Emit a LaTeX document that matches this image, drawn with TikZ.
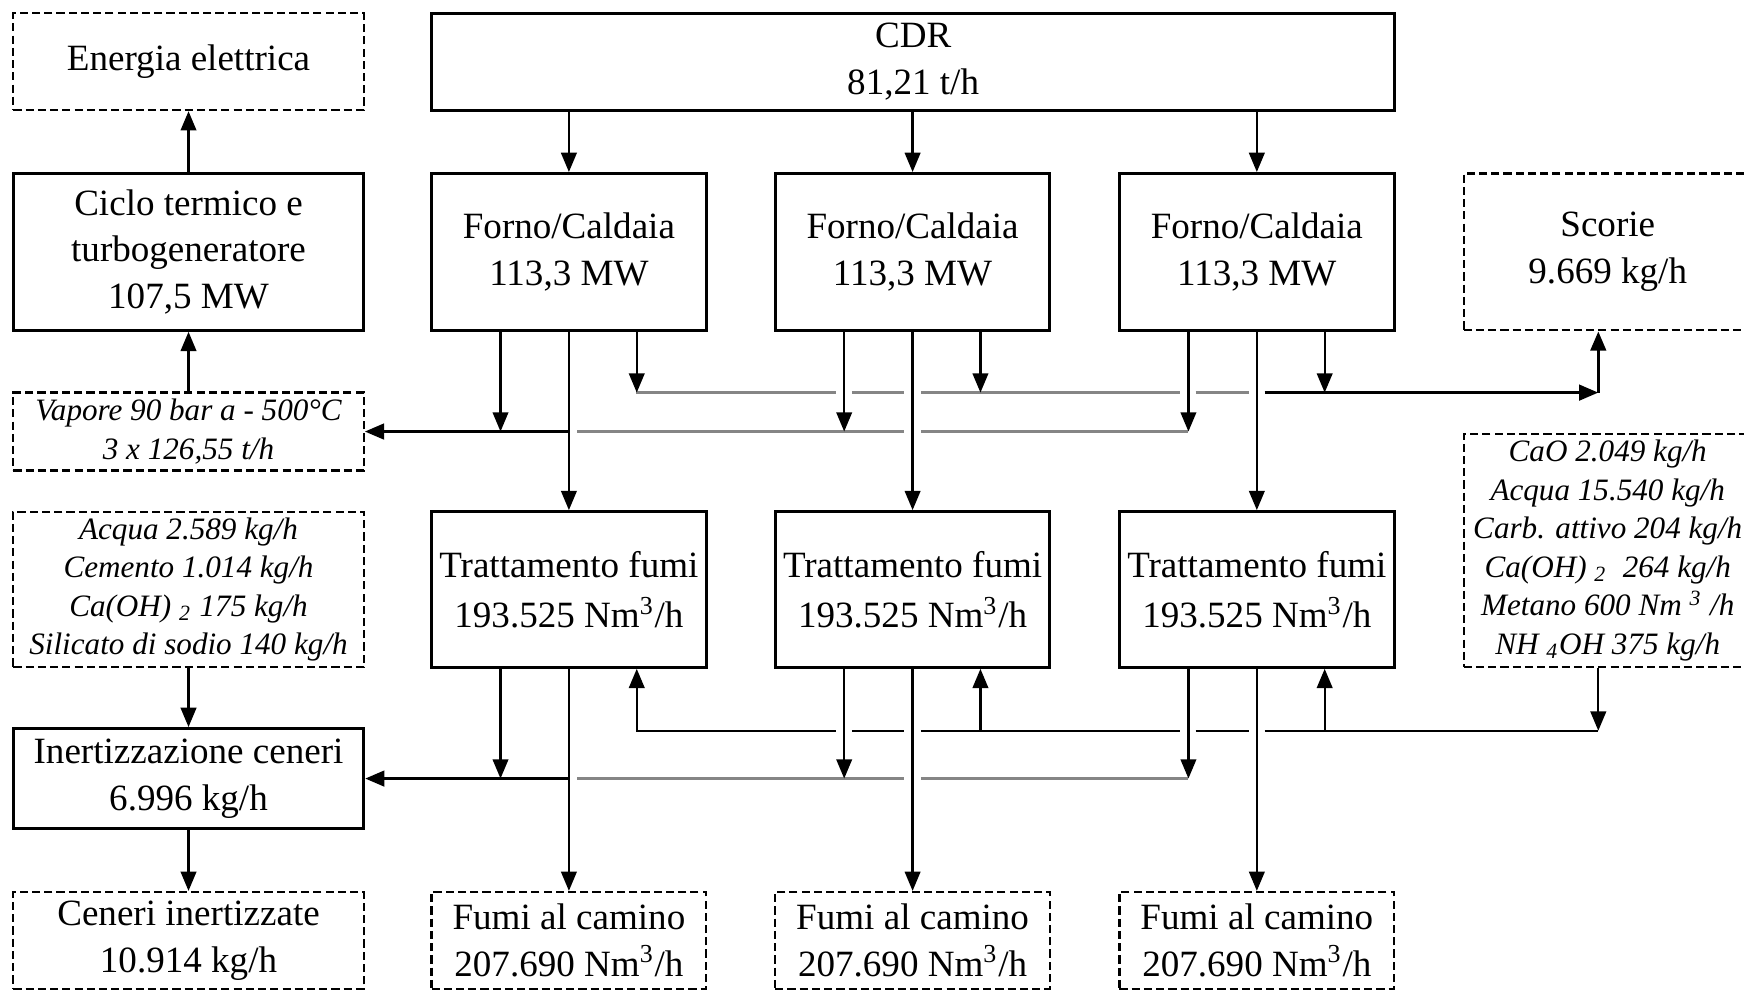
\documentclass[tikz,border=0pt]{standalone}
\usepackage{fontspec}
\setmainfont{Liberation Serif}
\usetikzlibrary{arrows.meta}
\newcommand\mainfs{\fontsize{10}{12.6}\selectfont}
\newcommand\itfs{\fontsize{8.4}{10.4}\selectfont\itshape}
\tikzset{
  solidbox/.style={draw, line width=0.8pt, inner sep=0pt, align=center, font=\mainfs},
  dashbox/.style={draw, line width=0.6pt, dash pattern=on 2.2pt off 1.1pt, inner sep=0pt, align=center, font=\mainfs},
  itbox/.style={dashbox, font=\itfs},
  arr/.style={-{Triangle[length=5.2pt,width=4.2pt]}, line width=0.6pt},
  busgray/.style={draw=black!48, line width=0.8pt},
  busblack/.style={line width=0.8pt},
  thinbus/.style={line width=0.55pt},
}
\begin{document}
\begin{tikzpicture}[x=0.3pt,y=-0.3pt]
\useasboundingbox (0,0) rectangle (1568,891);
% top row
\node[dashbox, minimum width=94.5pt, minimum height=26.1pt] (energia) at (169.5,55.5) {Energia elettrica};
\node[solidbox, minimum width=259.8pt, minimum height=26.1pt] (cdr) at (821,55.5) {CDR\\81,21 t/h};
% second row
\node[solidbox, minimum width=94.5pt, minimum height=42.3pt] (ciclo) at (169.5,226.5) {Ciclo termico e\\turbogeneratore\\107,5 MW};
\node[solidbox, minimum width=74.1pt, minimum height=42.3pt] (forno1) at (511.5,226.5) {Forno/Caldaia\\113,3 MW};
\node[solidbox, minimum width=74.1pt, minimum height=42.3pt] (forno2) at (820.5,226.5) {Forno/Caldaia\\113,3 MW};
\node[solidbox, minimum width=74.1pt, minimum height=42.3pt] (forno3) at (1130,226.5) {Forno/Caldaia\\113,3 MW};
\node[dashbox, minimum width=77.7pt, minimum height=42.3pt] (scorie) at (1445.5,226.5) {Scorie\\9.669 kg/h};
% side boxes
\node[itbox, minimum width=94.5pt, minimum height=21pt] (vapore) at (169.5,388) {Vapore 90 bar a - 500°C\\3 x 126,55 t/h};
\node[itbox, minimum width=77.7pt, minimum height=63pt] (cao) at (1445.5,495) {CaO 2.049 kg/h\\Acqua 15.540 kg/h\\Carb. attivo 204 kg/h\\Ca(OH)~\textsubscript{2}~ 264 kg/h\\Metano 600 Nm~\textsuperscript{3}~/h\\NH~\textsubscript{4}OH 375 kg/h};
\node[itbox, minimum width=94.5pt, minimum height=42pt] (acqua) at (169.5,530) {Acqua 2.589 kg/h\\Cemento 1.014 kg/h\\Ca(OH)~\textsubscript{2} 175 kg/h\\Silicato di sodio 140 kg/h};
% third row
\node[solidbox, minimum width=74.1pt, minimum height=42pt] (tratt1) at (511.5,530) {Trattamento fumi\\[1pt]193.525 Nm\textsuperscript{3}/h};
\node[solidbox, minimum width=74.1pt, minimum height=42pt] (tratt2) at (820.5,530) {Trattamento fumi\\[1pt]193.525 Nm\textsuperscript{3}/h};
\node[solidbox, minimum width=74.1pt, minimum height=42pt] (tratt3) at (1130,530) {Trattamento fumi\\[1pt]193.525 Nm\textsuperscript{3}/h};
\node[solidbox, minimum width=94.5pt, minimum height=27pt] (inert) at (169.5,700) {Inertizzazione ceneri\\6.996 kg/h};
% bottom row
\node[dashbox, minimum width=94.5pt, minimum height=26.1pt] (ceneri) at (169.5,845.5) {Ceneri inertizzate\\10.914 kg/h};
\node[dashbox, minimum width=74.1pt, minimum height=26.1pt] (fumi1) at (511.5,845.5) {Fumi al camino\\207.690 Nm\textsuperscript{3}/h};
\node[dashbox, minimum width=74.1pt, minimum height=26.1pt] (fumi2) at (820.5,845.5) {Fumi al camino\\207.690 Nm\textsuperscript{3}/h};
\node[dashbox, minimum width=74.1pt, minimum height=26.1pt] (fumi3) at (1130,845.5) {Fumi al camino\\207.690 Nm\textsuperscript{3}/h};
% bus levels
\coordinate (yslag) at (0,353);
\coordinate (ysteam) at (0,388);
\coordinate (yreag) at (0,657);
\coordinate (yash) at (0,700);
\coordinate (slagend) at (1437,353);
\coordinate (reagend) at (1437,657);
% gray collector lines with gaps
\draw[busgray] (519,388) -- (813,388) (828,388) -- (1068,388);
\draw[busgray] (572,353) -- (752,353) (766,353) -- (813,353) (828,353) -- (1061,353) (1075,353) -- (1123,353);
\draw[busgray] (519,700) -- (813,700) (828,700) -- (1068,700);
\draw[thinbus] (572,657) -- (752,657) (766,657) -- (813,657) (828,657) -- (1061,657) (1075,657) -- (1123,657) (1137,657) -- (reagend);
% black collector lines
\draw[busblack, arr, line width=0.8pt] (forno1.south |- ysteam) -- (vapore.east);
\draw[busblack, arr, line width=0.8pt] (tratt1.south |- yash) -- (inert.east);
\draw[busblack, arr, line width=0.8pt] (1137,353) -- (slagend);
\draw[arr, line width=0.75pt] (slagend) -- (slagend |- scorie.south);
\draw[arr] (cao.south -| reagend) -- (reagend);
% left column
\draw[arr] (ciclo.north) -- (energia.south);
\draw[arr] (vapore.north) -- (ciclo.south);
\draw[arr] (acqua.south) -- (inert.north);
\draw[arr] (inert.south) -- (ceneri.north);
% columns
\foreach \i in {1,2,3}{
  \draw[arr] (cdr.south -| forno\i.north) -- (forno\i.north);
  \draw[arr] (forno\i.south) -- (tratt\i.north);
  \draw[arr] (tratt\i.south) -- (fumi\i.north);
  \draw[arr] ([xshift=-18.45pt]forno\i.south) -- ([xshift=-18.45pt]forno\i.south |- ysteam);
  \draw[arr] ([xshift=18.3pt]forno\i.south) -- ([xshift=18.3pt]forno\i.south |- yslag);
  \draw[arr] ([xshift=-18.45pt]tratt\i.south) -- ([xshift=-18.45pt]tratt\i.south |- yash);
  \draw[arr] ([xshift=18.3pt]tratt\i.south |- yreag) -- ([xshift=18.3pt]tratt\i.south);
}
\end{tikzpicture}
\end{document}
